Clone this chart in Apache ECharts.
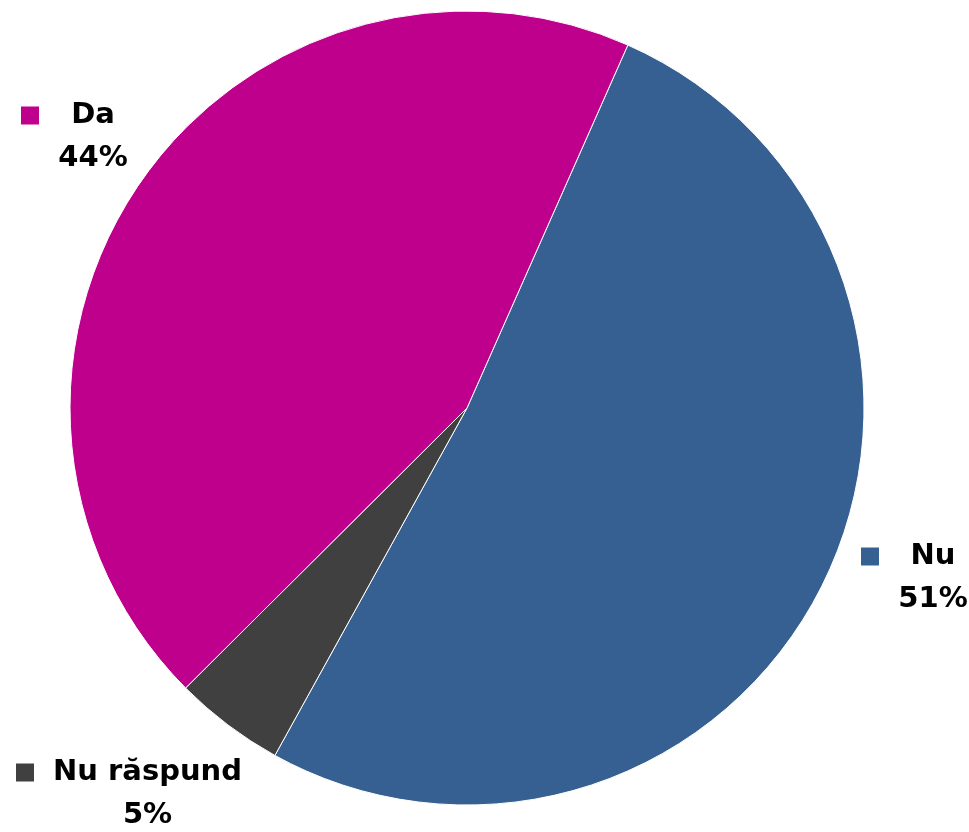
<!DOCTYPE html>
<html>
<head>
<meta charset="utf-8">
<script src="https://cdn.jsdelivr.net/npm/echarts@6/dist/echarts.min.js"></script>
<style>
html,body{margin:0;padding:0;background:#fff;}
#chart{width:969px;height:832px;}
</style>
</head>
<body>
<div id="chart"></div>
<script>
// Data (clockwise order, starting just right of the top)
const categories = ['Nu', 'Nu răspund', 'Da'];
const values = [51.4, 4.5, 44.1];
const colors = ['#376092', '#404040', '#BE008C'];
// label block anchors (left edge, vertical middle) relative to chart
const labelAnchors = [[861, 578], [16, 794], [21, 137]];

const FONT_SIZE = 29;
const FONT_FAMILY = '"DejaVu Sans", Verdana, sans-serif';
const MARK = 18, GAP = 18;

const ctx = document.createElement('canvas').getContext('2d');
ctx.font = 'bold ' + FONT_SIZE + 'px ' + FONT_FAMILY;
const total = values.reduce((a, b) => a + b, 0);

function pctText(v) { return Math.round(v / total * 100) + '%'; }

const data = categories.map((name, i) => {
  const w = Math.ceil(Math.max(ctx.measureText(name).width, ctx.measureText(pctText(values[i])).width)) + 2;
  return {
    name: name,
    value: values[i],
    itemStyle: { color: colors[i] },
    label: {
      rich: {
        m: { width: MARK, height: MARK, backgroundColor: colors[i] },
        s: { width: MARK, height: MARK },
        g: { width: GAP },
        t: { width: w, align: 'center', fontSize: FONT_SIZE, fontWeight: 'bold', fontFamily: FONT_FAMILY, color: '#000', lineHeight: 43 }
      }
    }
  };
});

const chart = echarts.init(document.getElementById('chart'), null, { renderer: 'canvas' });
chart.setOption({
  animation: false,
  backgroundColor: '#fff',
  series: [{
    type: 'pie',
    center: [467, 408],
    radius: 397,
    startAngle: 66.1,
    clockwise: true,
    avoidLabelOverlap: false,
    silent: true,
    itemStyle: { borderColor: '#fff', borderWidth: 1 },
    label: {
      show: true,
      position: 'outside',
      formatter: p => '{m|}{g|}{t|' + p.name + '}\n{s|}{g|}{t|' + pctText(p.value) + '}',
      lineHeight: 43,
      align: 'left'
    },
    labelLine: { show: false },
    labelLayout: function (params) {
      const a = labelAnchors[params.dataIndex];
      return { x: a[0], y: a[1], align: 'left', verticalAlign: 'middle' };
    },
    data: data
  }]
});
</script>
</body>
</html>
